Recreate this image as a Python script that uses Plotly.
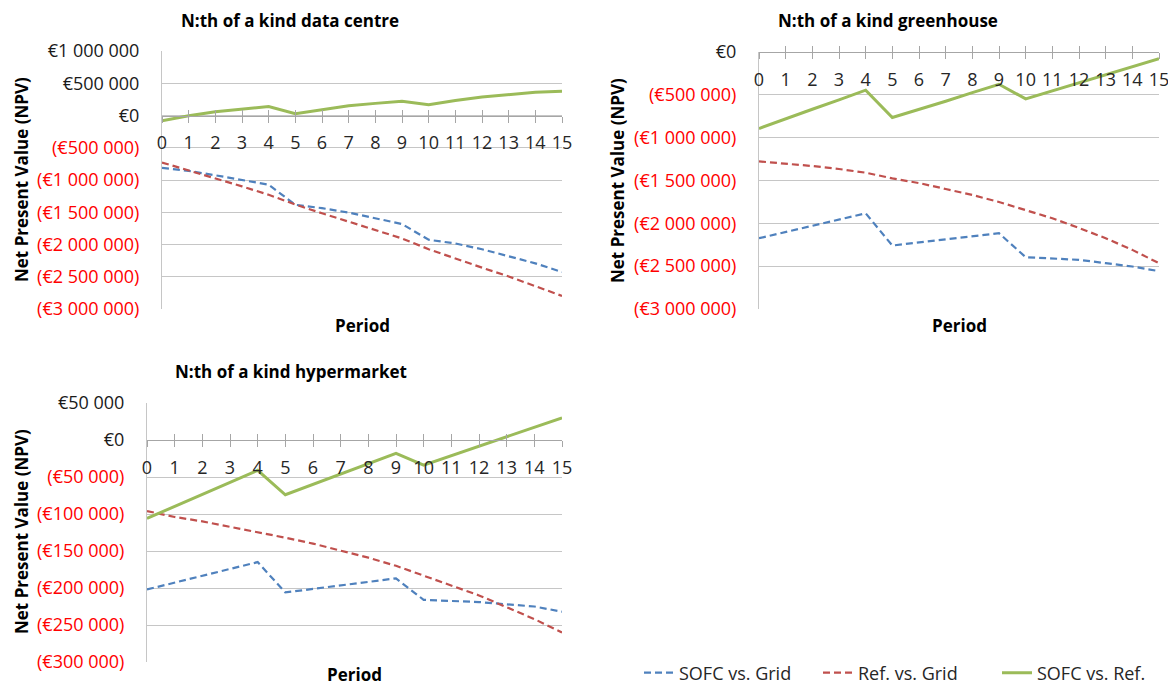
import plotly.graph_objs as go

# the page body keeps its 8px margin, so the figure is drawn 8px in from the window corner
OFF = 8
W, H = 1176 - OFF, 688 - OFF

periods = list(range(16))

# N:th of a kind data centre (EUR)
dc_sofc_grid = [-812000, -859000, -927000, -1005000, -1073000, -1385000, -1437000, -1505000,
                -1589000, -1682000, -1927000, -1984000, -2073000, -2177000, -2292000, -2427000]
dc_ref_grid = [-729000, -849000, -969000, -1099000, -1229000, -1380000, -1516000, -1646000,
               -1786000, -1906000, -2073000, -2219000, -2359000, -2495000, -2651000, -2797000]
dc_sofc_ref = [-83000, -5000, 57000, 104000, 140000, 26000, 94000, 151000,
               188000, 219000, 167000, 234000, 286000, 328000, 360000, 375000]
dc_tick_vals = [1000000, 500000, 0, -500000, -1000000, -1500000, -2000000, -2500000, -3000000]
dc_tick_text = ['€1 000 000', '€500 000', '€0', '(€500 000)', '(€1 000 000)', '(€1 500 000)',
                '(€2 000 000)', '(€2 500 000)', '(€3 000 000)']

# N:th of a kind greenhouse (EUR)
gh_sofc_grid = [-2174000, -2100000, -2027000, -1957000, -1883000, -2259000, -2224000, -2186000,
                -2151000, -2116000, -2395000, -2407000, -2426000, -2465000, -2504000, -2558000]
gh_ref_grid = [-1277000, -1300000, -1331000, -1366000, -1409000, -1475000, -1530000, -1599000,
               -1669000, -1751000, -1844000, -1941000, -2054000, -2174000, -2310000, -2465000]
gh_sofc_ref = [-893000, -776000, -668000, -559000, -446000, -765000, -672000, -575000,
               -474000, -377000, -547000, -454000, -361000, -268000, -175000, -78000]
gh_tick_vals = [0, -500000, -1000000, -1500000, -2000000, -2500000, -3000000]
gh_tick_text = ['€0', '(€500 000)', '(€1 000 000)', '(€1 500 000)', '(€2 000 000)',
                '(€2 500 000)', '(€3 000 000)']

# N:th of a kind hypermarket (EUR)
hm_sofc_grid = [-202000, -193000, -184000, -174000, -165000, -206000, -201000, -196000,
                -192000, -187000, -216000, -217000, -219000, -222000, -225000, -232000]
hm_ref_grid = [-96000, -104000, -110000, -117000, -124000, -132000, -140000, -149000,
               -159000, -170000, -183000, -196000, -210000, -226000, -242000, -260000]
hm_sofc_ref = [-106000, -90000, -73000, -57000, -41000, -74000, -60000, -46000,
               -32000, -18000, -34000, -21000, -9000, 5000, 18000, 30000]
hm_tick_vals = [50000, 0, -50000, -100000, -150000, -200000, -250000, -300000]
hm_tick_text = ['€50 000', '€0', '(€50 000)', '(€100 000)', '(€150 000)', '(€200 000)',
                '(€250 000)', '(€300 000)']

series_names = ['SOFC vs. Grid', 'Ref. vs. Grid', 'SOFC vs. Ref.']
series_colors = ['#4F81BD', '#C0504D', '#9BBB59']

FONT = 'Open Sans'
GRID = '#C6C6C6'
AXIS = '#A6A6A6'

fig = go.Figure()


def px_x(x):
    return (x - OFF) / W


def px_y(y):
    return 1 - (y - OFF) / H


def ax_name(kind, i):
    return kind if i == 1 else f'{kind}{i}'


def add_panel(i, title, values, tick_vals, tick_text, box, title_xy, ytitle_xy, period_xy):
    left, top, right, bottom = box
    ymin, ymax = min(tick_vals), max(tick_vals)
    xdom = [px_x(left), px_x(right)]
    ydom = [px_y(bottom), px_y(top)]
    zero_pos = ydom[0] + (0 - ymin) / (ymax - ymin) * (ydom[1] - ydom[0])

    xa, ya = ax_name('x', i), ax_name('y', i)
    for name, color, vals in zip(series_names, series_colors, values):
        solid = name == 'SOFC vs. Ref.'
        fig.add_trace(go.Scatter(x=periods, y=vals, mode='lines', name=name,
                                 xaxis=xa, yaxis=ya, showlegend=(i == 1),
                                 line=dict(color=color, width=3 if solid else 2.2,
                                           dash='solid' if solid else '7px,4px')))
    # invisible copy so the overlay x axis (upper half of the cross ticks) gets drawn
    fig.add_trace(go.Scatter(x=periods, y=values[0], mode='lines', opacity=0, showlegend=False,
                             hoverinfo='skip', xaxis=f'x{i + 3}', yaxis=ya))

    # negative values in red with brackets
    labels = [t if v >= 0 else f'<span style="color:#FF0000">{t}</span>'
              for v, t in zip(tick_vals, tick_text)]

    fig.update_layout(**{
        ax_name('xaxis', i): dict(domain=xdom, range=[0, 15], anchor='free', position=zero_pos,
                                  tickvals=periods, ticks='outside', ticklen=6, tickcolor=AXIS,
                                  showline=True, linecolor=AXIS, showgrid=False, zeroline=False,
                                  ticklabelstandoff=5,
                                  tickfont=dict(family=FONT, size=18, color='#262626')),
        f'xaxis{i + 3}': dict(overlaying=xa, range=[0, 15], anchor='free', position=zero_pos,
                              tickvals=periods, ticks='inside', ticklen=6, tickcolor=AXIS,
                              showticklabels=False, showgrid=False, zeroline=False, showline=False),
        ax_name('yaxis', i): dict(domain=ydom, range=[ymin, ymax], anchor=xa,
                                  tickvals=tick_vals, ticktext=labels,
                                  showgrid=True, gridcolor=GRID, showline=True, linecolor=GRID,
                                  zeroline=False, ticks='', ticklabelstandoff=18,
                                  tickfont=dict(family=FONT, size=18, color='#1a1a1a')),
    })

    bold = dict(family=FONT, size=17, color='#000000', weight='bold')
    fig.add_annotation(text=title, x=px_x(title_xy[0]), y=px_y(title_xy[1]), xref='paper', yref='paper',
                       showarrow=False, xanchor='center', yanchor='middle', font=bold, borderpad=0)
    fig.add_annotation(text='Net Present Value (NPV)', x=px_x(ytitle_xy[0]), y=px_y(ytitle_xy[1]),
                       xref='paper', yref='paper', showarrow=False, textangle=-90,
                       xanchor='center', yanchor='middle', font=bold)
    fig.add_annotation(text='Period', x=px_x(period_xy[0]), y=px_y(period_xy[1]), xref='paper', yref='paper',
                       showarrow=False, xanchor='center', yanchor='middle', font=bold, borderpad=0)


add_panel(1, 'N:th of a kind data centre', [dc_sofc_grid, dc_ref_grid, dc_sofc_ref],
          dc_tick_vals, dc_tick_text, (162, 51, 562, 309), (290, 20), (21, 180), (362, 325))
add_panel(2, 'N:th of a kind greenhouse', [gh_sofc_grid, gh_ref_grid, gh_sofc_ref],
          gh_tick_vals, gh_tick_text, (759, 52, 1159, 309), (888, 20), (617, 180), (959, 325))
add_panel(3, 'N:th of a kind hypermarket', [hm_sofc_grid, hm_ref_grid, hm_sofc_ref],
          hm_tick_vals, hm_tick_text, (147, 403, 562, 662), (291, 371), (21, 532), (354, 674))

fig.update_layout(
    autosize=False, width=W, height=H,
    margin=dict(l=0, r=0, t=0, b=0, autoexpand=False),
    paper_bgcolor='white', plot_bgcolor='white',
    showlegend=True,
    legend=dict(orientation='h', x=px_x(639), xanchor='left', y=px_y(673), yanchor='middle',
                entrywidth=134, font=dict(family=FONT, size=18, color='#262626'),
                bgcolor='rgba(0,0,0,0)'),
)

fig.write_html("out.html")
